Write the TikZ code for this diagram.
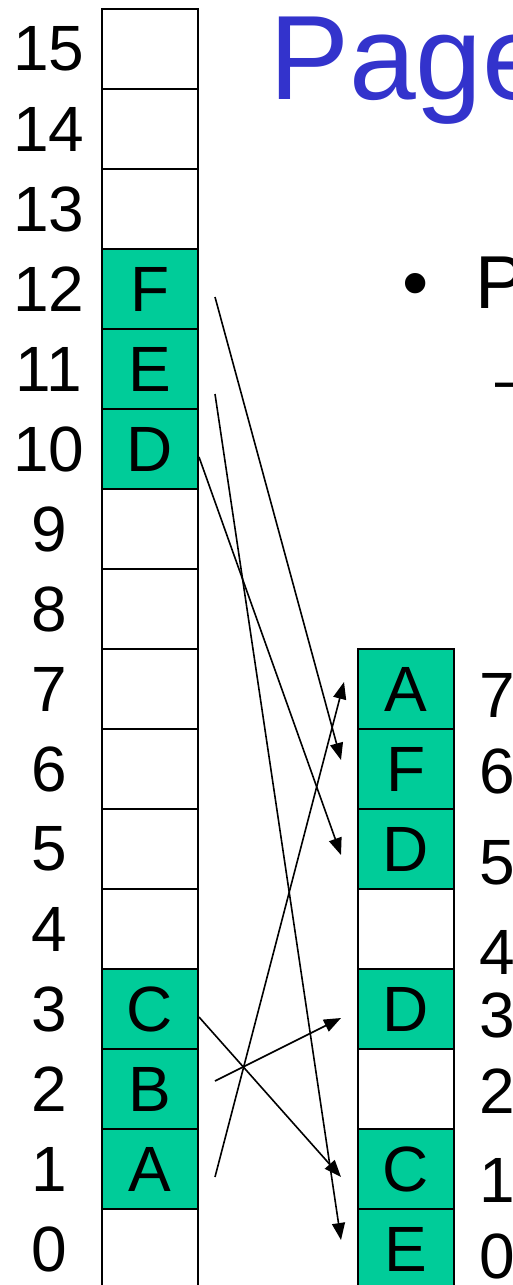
\documentclass[tikz,border=0pt]{standalone}
\usepackage{fontspec}
\setmainfont{Liberation Sans}
\usetikzlibrary{arrows.meta}
\definecolor{ocupado}{RGB}{0,204,153}
\definecolor{titulo}{RGB}{51,51,204}

\begin{document}
\begin{tikzpicture}[
  x = 1pt, y = -1pt,
  celda/.style = {draw, line width = 2, minimum width = 96pt, minimum height = 80pt, inner sep = 0pt,
    font = \fontsize{64}{64}\selectfont},
  numero/.style = {inner sep = 0pt, font = \fontsize{64}{64}\selectfont},
  enlace/.style = {-{Triangle[length = 17pt, width = 13pt]}, line width = 1.6}
]
\useasboundingbox (0, 0) rectangle (513, 1285);
\clip (0, 0) rectangle (513, 1285);
% virtual pages
\foreach \i/\t/\f in {0/{}/white, 1/A/ocupado, 2/B/ocupado, 3/C/ocupado, 4/{}/white, 5/{}/white,
  6/{}/white, 7/{}/white, 8/{}/white, 9/{}/white, 10/D/ocupado, 11/E/ocupado, 12/F/ocupado,
  13/{}/white, 14/{}/white, 15/{}/white}{
  \node[celda, fill = \f] (v\i) at (150, 1249 - 80*\i) {\t};
  \node[numero] (nv\i) at (49, 1249 - 80*\i) {\i};
}
% physical frames
\foreach \i/\t/\f in {0/E/ocupado, 1/C/ocupado, 2/{}/white, 3/D/ocupado, 4/{}/white,
  5/D/ocupado, 6/F/ocupado, 7/A/ocupado}{
  \node[celda, fill = \f] (f\i) at (406, 1249 - 80*\i) {\t};
}
\foreach \i/\y in {0/1256, 1/1180, 2/1091, 3/1015, 4/952, 5/863, 6/771, 7/695}
  \node[numero, anchor = west] (nf\i) at (479, \y) {\i};
\node[anchor = base west, inner sep = 0pt, text = titulo, font = \fontsize{120}{120}\selectfont]
  (titulo) at (269, 99) {Page};
\node[anchor = base, inner sep = 0pt, font = \fontsize{75}{75}\selectfont] (bala) at (416, 308) {•};
\node[anchor = base west, inner sep = 0pt, font = \fontsize{75}{75}\selectfont] (texto) at (475, 308) {P};
\node[anchor = base west, inner sep = 0pt, font = \fontsize{64}{64}\selectfont] (guion) at (495, 401) {–};
% page table mapping
\draw[enlace] ([shift = {(16, 8)}]v12.east) -- ([shift = {(-16, -9)}]f6.west);
\draw[enlace] ([shift = {(16, 25)}]v11.east) -- ([shift = {(-16, -9)}]f0.west);
\draw[enlace] ([shift = {(0, 8)}]v10.east) -- ([shift = {(-16, 6)}]f5.west);
\draw[enlace] ([shift = {(0, 8)}]v3.east) -- ([shift = {(-16, 8)}]f1.west);
\draw[enlace] ([shift = {(16, -8)}]v2.east) -- ([shift = {(-16, 9)}]f3.west);
\draw[enlace] ([shift = {(16, 8)}]v1.east) -- ([shift = {(-13, -7)}]f7.west);
\end{tikzpicture}
\end{document}
